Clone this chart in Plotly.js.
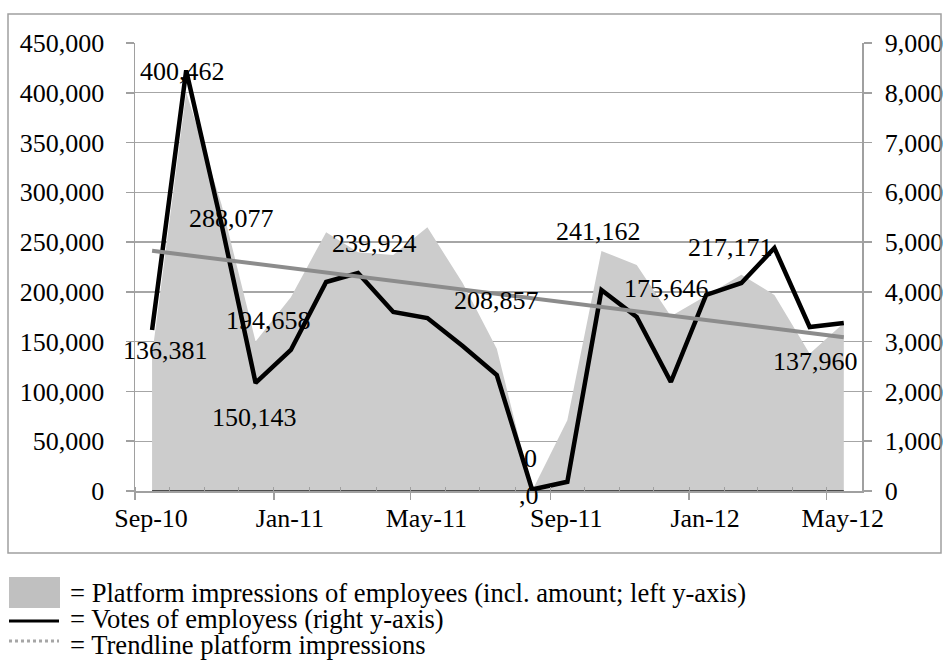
<!DOCTYPE html>
<html><head><meta charset="utf-8">
<script src="https://cdn.plot.ly/plotly-3.0.1.min.js"></script>
<style>html,body{margin:0;padding:0;background:#fff}</style>
</head><body><div id="chart" style="width:949px;height:666px"></div>
<script>
// ---- data ----
const months = ['2010-09-16','2010-10-16','2010-11-16','2010-12-16',
  '2011-01-16','2011-02-16','2011-03-16','2011-04-16','2011-05-16','2011-06-16',
  '2011-07-16','2011-08-16','2011-09-16','2011-10-16','2011-11-16','2011-12-16',
  '2012-01-16','2012-02-16','2012-03-16','2012-04-16','2012-05-16'];
const impressions = [136381, 400462, 288077, 150143, 194658, 260000, 239924, 237000, 265000, 208857,
  143000, 0, 71000, 241162, 227000, 175646, 196000, 217171, 197000, 137960, 168750];
const votes = [3234, 8450, 5364, 2170, 2833, 4199, 4379, 3596, 3475, 2913,
  2330, 30, 185, 4038, 3496, 2190, 3938, 4179, 4882, 3295, 3375];
const labelIndex = [0, 1, 2, 3, 4, 6, 9, 11, 11, 13, 15, 17, 19];
const labelText = ['136,381','400,462','288,077','150,143','194,658','239,924','208,857','0',',0','241,162','175,646','217,171','137,960'];
const legendText = ['= Platform impressions of employees (incl. amount; left y-axis)',
  '= Votes of employess (right y-axis)',
  '= Trendline platform impressions'];

// ---- style / placement ----
const labelOffset = [[13,-5],[-4,-21],[10,14],[-1,76],[-22,23],[17,-9],[34,17],[-2,-33],[-3,4],[-3,-19],[-4,-28],[-11,-27],[6,8]];
const L = 135, R = 862, T = 43, B = 491, W = R - L, H = B - T;
const px = x => (x - L) / W, py = y => (B - y) / H;
const FONT = '"Liberation Serif", "Times New Roman", serif';
const AX = '#a0a0a0';

// linear trendline (least squares over dates)
const xs = months.map(d => new Date(d).getTime());
const n = xs.length;
const mx = xs.reduce((a, b) => a + b, 0) / n;
const my = impressions.reduce((a, b) => a + b, 0) / n;
let sxy = 0, sxx = 0;
for (let i = 0; i < n; i++) { sxy += (xs[i] - mx) * (impressions[i] - my); sxx += (xs[i] - mx) ** 2; }
const slope = sxy / sxx;
const trend = xs.map(x => my + slope * (x - mx));

const traces = [
  {x: months, y: impressions, type: 'scatter', mode: 'none', fill: 'tozeroy', fillcolor: '#cccccc', yaxis: 'y'},
  {x: months, y: months.map(() => 0), type: 'scatter', mode: 'lines', line: {color: '#222', width: 1.5}, yaxis: 'y'},
  {x: months, y: votes, type: 'scatter', mode: 'lines', line: {color: '#000', width: 4.5}, yaxis: 'y2'},
  {x: months, y: trend, type: 'scatter', mode: 'lines', line: {color: '#8c8c8c', width: 4}, yaxis: 'y3'}
];

const annotations = labelIndex.map((k, j) => ({
  x: months[k], y: impressions[k], xref: 'x', yref: 'y', text: labelText[j], showarrow: false,
  xshift: labelOffset[j][0], yshift: -labelOffset[j][1], font: {family: FONT, size: 26, color: '#000'}
}));
const legendY = [593, 619, 645];
legendText.forEach((t, i) => annotations.push({
  x: px(68), y: py(legendY[i]), xref: 'paper', yref: 'paper', xanchor: 'left', yanchor: 'middle',
  text: t, showarrow: false, font: {family: FONT, size: 26.6, color: '#000'}
}));

const shapes = [
  {type: 'rect', xref: 'paper', yref: 'paper', x0: px(8), x1: px(941), y0: py(553), y1: py(14), line: {color: AX, width: 1.5}},
  {type: 'rect', xref: 'paper', yref: 'paper', x0: px(9), x1: px(60), y0: py(608), y1: py(577), fillcolor: '#c0c0c0', line: {width: 0}},
  {type: 'line', xref: 'paper', yref: 'paper', x0: px(9), x1: px(59), y0: py(621), y1: py(621), line: {color: '#000', width: 3}},
  {type: 'line', xref: 'paper', yref: 'paper', x0: px(9), x1: px(59), y0: py(641), y1: py(641), line: {color: '#a6a6a6', width: 3, dash: 'dot'}}
];

const tickFont = {family: FONT, size: 26, color: '#000'};
const layout = {
  width: 949, height: 666, autosize: false,
  margin: {l: L, r: 949 - R, t: T, b: 666 - B, pad: 0},
  paper_bgcolor: '#fff', plot_bgcolor: '#fff', showlegend: false, hovermode: false,
  xaxis: {type: 'date', range: ['2010-09-01', '2012-06-01'], tick0: '2010-09-01', dtick: 'M4', tickformat: '%b-%y',
    ticks: 'outside', ticklen: 7, tickcolor: AX, tickwidth: 1.5, showline: true, linecolor: AX, linewidth: 1.5,
    showgrid: false, zeroline: false, tickfont: tickFont, ticklabelshift: 16, ticklabelstandoff: -4,
    minor: {ticks: 'inside', dtick: 'M1', tick0: '2010-09-01', ticklen: 4, tickcolor: AX, tickwidth: 1, showgrid: false}},
  yaxis: {range: [0, 450000], dtick: 50000, tickformat: ',d', ticks: 'outside', ticklen: 8, tickcolor: AX, tickwidth: 1.5,
    showline: true, linecolor: AX, linewidth: 1.5, showgrid: true, gridcolor: '#a6a6a6', gridwidth: 1.3,
    zeroline: false, tickfont: tickFont, ticklabelstandoff: 16},
  yaxis2: {range: [0, 9000], dtick: 1000, tickformat: ',d', overlaying: 'y', side: 'right', ticks: 'outside', ticklen: 8,
    tickcolor: AX, tickwidth: 1.5, showline: true, linecolor: AX, linewidth: 1.5, showgrid: false, zeroline: false,
    tickfont: tickFont, ticklabelstandoff: 8},
  yaxis3: {range: [0, 450000], overlaying: 'y', visible: false},
  annotations: annotations, shapes: shapes
};
Plotly.newPlot('chart', traces, layout, {staticPlot: true, displayModeBar: false});
</script></body></html>
